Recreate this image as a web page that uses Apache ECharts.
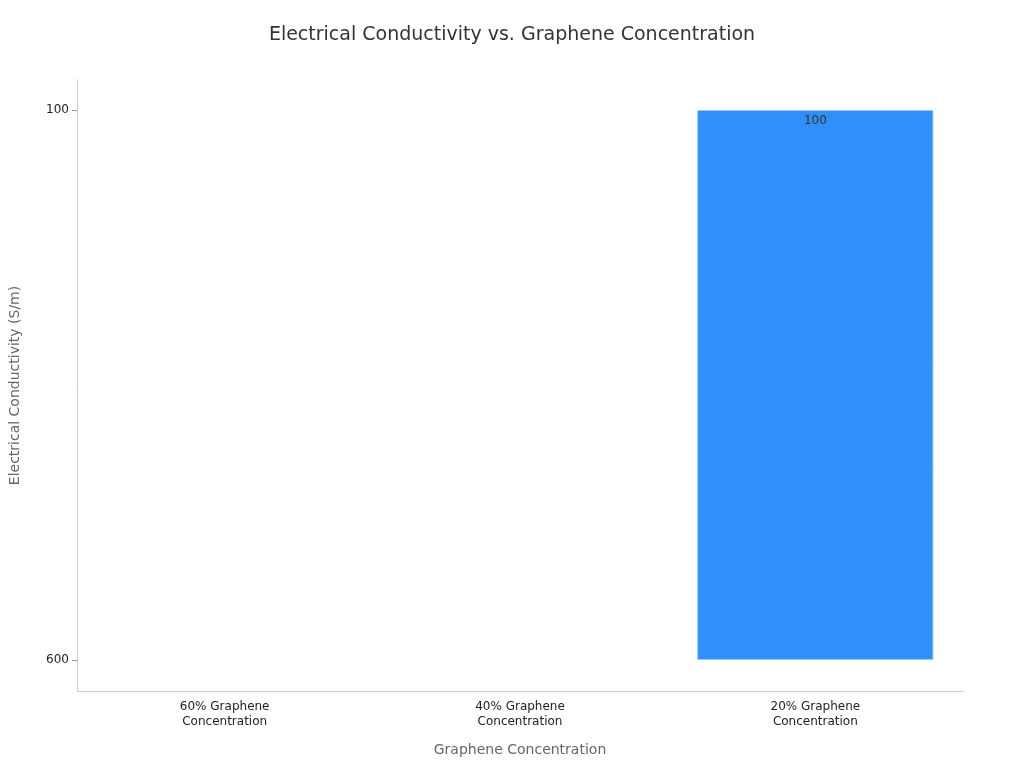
<!DOCTYPE html>
<html><head><meta charset="utf-8">
<script src="https://cdn.jsdelivr.net/npm/echarts@6/dist/echarts.min.js"></script>
<style>html,body{margin:0;padding:0}#chart{width:1024px;height:768px}</style>
</head><body><div id="chart"></div>
<script>
var categories = ['60% Graphene\nConcentration', '40% Graphene\nConcentration', '20% Graphene\nConcentration'];
var conductivity = [null, null, 100];
var barBottom = 600;
var yTicks = [100, 600];

var myChart = echarts.init(document.getElementById('chart'));
var option = {
    textStyle: { fontFamily: 'DejaVu Sans' },
    title: {
        text: 'Electrical Conductivity vs. Graphene Concentration',
        left: 'center', top: 21,
        textStyle: { fontSize: 19, fontWeight: 'normal', color: '#333' }
    },
    grid: { left: 68, right: 61, top: 80, bottom: 77 },
    xAxis: {
        type: 'category', data: categories,
        name: 'Graphene Concentration', nameLocation: 'middle', nameGap: 52,
        nameTextStyle: { fontSize: 14, color: '#666' },
        axisLine: { lineStyle: { color: '#ccc' } },
        axisTick: { alignWithLabel: true, lineStyle: { color: '#999' } },
        axisLabel: { color: '#222', fontSize: 12, lineHeight: 15 }
    },
    yAxis: {
        type: 'value', inverse: true, min: 72.7, max: 628.2,
        name: 'Electrical Conductivity (S/m)', nameLocation: 'middle', nameGap: 55,
        nameTextStyle: { fontSize: 14, color: '#666' },
        axisLine: { show: true, lineStyle: { color: '#ccc' } },
        axisTick: { show: true, customValues: yTicks, lineStyle: { color: '#999' } },
        splitLine: { show: false },
        axisLabel: { color: '#222', fontSize: 12, customValues: yTicks }
    },
    series: [{
        type: 'bar', stack: 'c', data: conductivity, barWidth: '80%',
        itemStyle: { color: 'transparent' }, silent: true
    }, {
        type: 'bar', stack: 'c', barWidth: '80%',
        data: conductivity.map(function (v) { return v == null ? null : barBottom - v; }),
        itemStyle: { color: '#2E90F8', borderColor: '#9cc8f5', borderWidth: 1 },
        label: {
            show: true, position: 'insideTop', color: '#333', fontSize: 12,
            formatter: function (p) { return conductivity[p.dataIndex]; }
        }
    }]
};
myChart.setOption(option);
</script></body></html>
